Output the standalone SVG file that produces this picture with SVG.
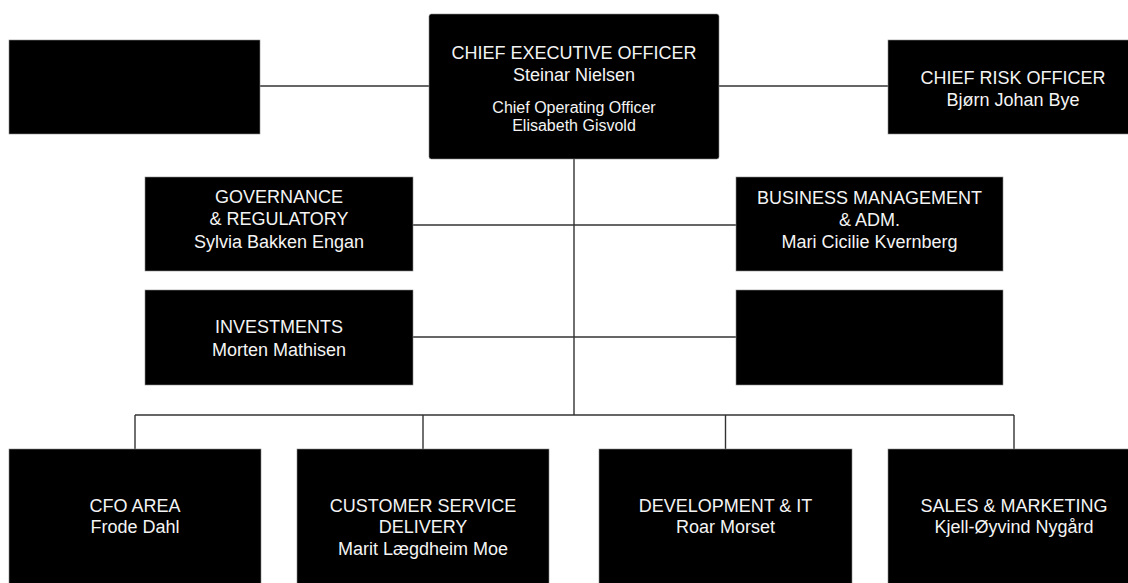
<svg xmlns="http://www.w3.org/2000/svg" width="1128" height="583" viewBox="0 0 1128 583">
  <style>
    .box { fill: #000; stroke: #8a8a8a; stroke-width: 0.6; }
    .t { font-family: "Liberation Sans", Arial, sans-serif; font-size: 18px; fill: #f4f4f4; text-anchor: middle; }
    .s { font-size: 16px; }
    .c { fill: none; stroke: #333; stroke-width: 1.4; }
  </style>
  <rect width="1128" height="583" fill="#fff"/>
  <g id="connectors">
    <line class="c" x1="260" y1="86" x2="429" y2="86"/>
    <line class="c" x1="719" y1="86" x2="888" y2="86"/>
    <line class="c" x1="574" y1="159" x2="574" y2="415"/>
    <line class="c" x1="413" y1="225" x2="736" y2="225"/>
    <line class="c" x1="413" y1="337" x2="736" y2="337"/>
    <line class="c" x1="135" y1="415" x2="1014" y2="415"/>
    <line class="c" x1="135" y1="415" x2="135" y2="449"/>
    <line class="c" x1="423" y1="415" x2="423" y2="449"/>
    <line class="c" x1="725.5" y1="415" x2="725.5" y2="449"/>
    <line class="c" x1="1014" y1="415" x2="1014" y2="449"/>
  </g>
  <g id="blank-left">
    <rect class="box" x="9" y="40" width="251" height="94"/>
  </g>
  <g id="ceo">
    <rect class="box" x="429" y="14" width="290" height="145" rx="2.5"/>
    <text class="t" x="574" y="59">CHIEF EXECUTIVE OFFICER</text>
    <text class="t" x="574" y="81">Steinar Nielsen</text>
    <text class="t s" x="574" y="113">Chief Operating Officer</text>
    <text class="t s" x="574" y="131">Elisabeth Gisvold</text>
  </g>
  <g id="cro">
    <rect class="box" x="888" y="40" width="251" height="94"/>
    <text class="t" x="1013" y="84">CHIEF RISK OFFICER</text>
    <text class="t" x="1013" y="106">Bjørn Johan Bye</text>
  </g>
  <g id="governance">
    <rect class="box" x="145" y="177" width="268" height="94"/>
    <text class="t" x="279" y="203">GOVERNANCE</text>
    <text class="t" x="279" y="225">&amp; REGULATORY</text>
    <text class="t" x="279" y="248">Sylvia Bakken Engan</text>
  </g>
  <g id="business-management">
    <rect class="box" x="736" y="177" width="267" height="94"/>
    <text class="t" x="869.5" y="204">BUSINESS MANAGEMENT</text>
    <text class="t" x="869.5" y="226">&amp; ADM.</text>
    <text class="t" x="869.5" y="248">Mari Cicilie Kvernberg</text>
  </g>
  <g id="investments">
    <rect class="box" x="145" y="290" width="268" height="95"/>
    <text class="t" x="279" y="333">INVESTMENTS</text>
    <text class="t" x="279" y="356">Morten Mathisen</text>
  </g>
  <g id="blank-right">
    <rect class="box" x="736" y="290" width="267" height="95"/>
  </g>
  <g id="cfo">
    <rect class="box" x="9" y="449" width="252" height="145"/>
    <text class="t" x="135" y="512">CFO AREA</text>
    <text class="t" x="135" y="533">Frode Dahl</text>
  </g>
  <g id="customer-service">
    <rect class="box" x="297" y="449" width="252" height="145"/>
    <text class="t" x="423" y="512">CUSTOMER SERVICE</text>
    <text class="t" x="423" y="533">DELIVERY</text>
    <text class="t" x="423" y="555">Marit Lægdheim Moe</text>
  </g>
  <g id="development">
    <rect class="box" x="599" y="449" width="253" height="145"/>
    <text class="t" x="725.5" y="512">DEVELOPMENT &amp; IT</text>
    <text class="t" x="725.5" y="533">Roar Morset</text>
  </g>
  <g id="sales">
    <rect class="box" x="888" y="449" width="252" height="145"/>
    <text class="t" x="1014" y="512">SALES &amp; MARKETING</text>
    <text class="t" x="1014" y="533">Kjell-Øyvind Nygård</text>
  </g>
</svg>
